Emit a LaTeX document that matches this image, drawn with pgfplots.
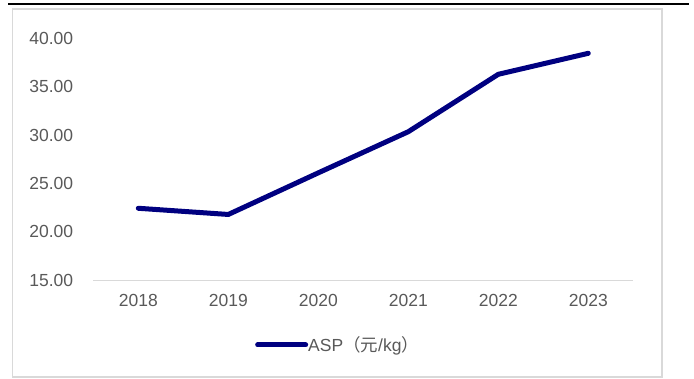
\documentclass[border=0pt]{standalone}
\usepackage{pgfplots}
\pgfplotsset{compat=1.18}
\usepackage{fontspec}
\setmainfont{Liberation Sans}
\newfontfamily\cjk{Noto Sans CJK SC}
\definecolor{navyline}{RGB}{0,0,128}
\definecolor{txtgray}{RGB}{89,89,89}
\definecolor{framegray}{RGB}{217,217,217}
\begin{document}
\fontsize{17.5pt}{21pt}\selectfont
\begin{tikzpicture}[x=1pt,y=1pt]
\useasboundingbox (0,0) rectangle (694,379);
\draw[black, line width=2.4pt] (8,375.2) -- (689,375.2);
\draw[framegray, line width=1.6pt] (12.3,1.7) rectangle (661.7,369.7);
\begin{axis}[
  at={(93.3pt,98.7pt)}, anchor=south west,
  scale only axis, width=540pt, height=242pt,
  xmin=-0.5, xmax=5.5, ymin=15, ymax=40,
  xtick={0,1,2,3,4,5},
  xticklabels={2018,2019,2020,2021,2022,2023},
  ytick={15,20,25,30,35,40},
  major tick length=0pt,
  axis line style={draw=none},
  axis x line*=bottom, axis y line*=left,
  extra y ticks={15}, extra y tick labels={},
  extra y tick style={grid=major, major grid style={framegray, line width=1.2pt}},
  /pgf/number format/fixed, /pgf/number format/fixed zerofill,
  /pgf/number format/precision=2, /pgf/number format/assume math mode=true,
  yticklabel style={anchor=east, inner sep=0pt, xshift=-20pt, text=txtgray},
  xticklabel style={anchor=north, inner sep=0pt, yshift=-13.5pt, text=txtgray},
  tick label style={font=\fontsize{17.5pt}{21pt}\selectfont},
  legend style={at={(0.2994,-0.267)}, anchor=west, draw=none, fill=none, inner sep=0pt,
    font=\fontsize{17.5pt}{21pt}\selectfont, text=txtgray,
    nodes={inner sep=0pt}},
  legend image code/.code={\draw[navyline, line width=5pt, line cap=round] (2.5pt,0pt) -- (50.5pt,0pt);},
  legend cell align=left,
  clip=false,
]
\addplot[navyline, line width=5pt, line cap=round, line join=round] coordinates {
  (0,22.44) (1,21.80) (2,26.10) (3,30.35) (4,36.28) (5,38.45)
};
\addlegendentry{ASP{\cjk （元}/kg{\cjk ）}}
\end{axis}
\end{tikzpicture}
\end{document}
